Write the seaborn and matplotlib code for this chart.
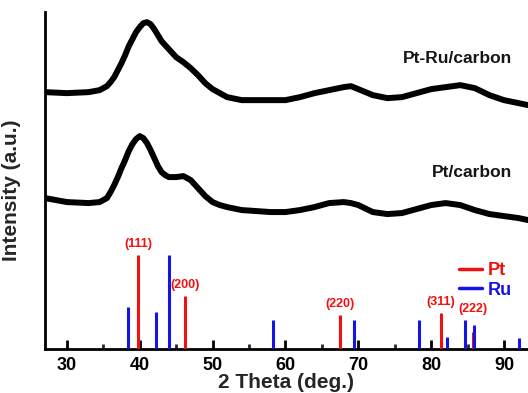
import numpy as np
import pandas as pd
import matplotlib
matplotlib.use("Agg")
import matplotlib.pyplot as plt
import seaborn as sns
from matplotlib.lines import Line2D
from matplotlib.ticker import MultipleLocator

# ---- data ----
two_theta = [27, 30, 33, 34.5, 35.5, 36, 36.5, 37, 37.5, 38, 38.5, 39, 39.5, 40, 40.5, 41,
             41.5, 42, 42.5, 43, 43.5, 44, 45, 46, 47, 48, 49, 50, 51, 52, 54, 56, 58, 60,
             62, 64, 66, 68, 69, 70, 72, 74, 76, 78, 80, 82, 84, 86, 88, 90, 92, 93.3]
ptru_intensity = [257, 256, 257, 259, 263, 267, 272, 279, 286, 294, 303, 310, 317, 322, 326,
                  327, 325, 320, 314, 308, 304, 300, 292, 287, 281, 274, 266, 260, 256, 252,
                  249, 249, 249, 249, 252, 256, 259, 262, 263, 260, 254, 251, 252, 256, 260,
                  262, 264, 261, 254, 249, 246, 244]
pt_intensity = [151, 147, 146, 147, 151, 157, 164, 172, 181, 189, 198, 205, 210, 213, 211,
                206, 199, 191, 183, 177, 174, 172, 172, 173, 169, 161, 153, 147, 144, 142,
                139, 138, 137, 137, 139, 142, 146, 147, 146, 144, 137, 135, 136, 140, 144,
                146, 144, 139, 135, 133, 131, 129]
sample_names = ["Pt-Ru/carbon", "Pt/carbon"]

pt_ref_pos = [39.8, 46.2, 67.5, 81.3, 85.7]
pt_ref_height = [94, 53, 34, 36, 17]
pt_ref_hkl = ["(111)", "(200)", "(220)", "(311)", "(222)"]

ru_ref_pos = [38.4, 42.2, 44.0, 58.3, 69.4, 78.4, 82.2, 84.7, 85.9, 92.1]
ru_ref_height = [42, 37, 94, 29, 29, 29, 12, 29, 24, 11]

xticks = [30, 40, 50, 60, 70, 80, 90]

# ---- styling ----
sns.set_style("white")
plt.rcParams["font.family"] = ["Liberation Sans", "DejaVu Sans"]
RED = "#f01010"
BLUE = "#1414e6"

fig = plt.figure(figsize=(5.28, 3.93), dpi=100)
ax = fig.add_axes([0.0852, 0.112, 0.9148, 0.857])

df = pd.DataFrame({
    "two_theta": two_theta * 2,
    "intensity": ptru_intensity + pt_intensity,
    "sample": [sample_names[0]] * len(two_theta) + [sample_names[1]] * len(two_theta),
})
sns.lineplot(data=df, x="two_theta", y="intensity", hue="sample",
             palette={sample_names[0]: "black", sample_names[1]: "black"},
             linewidth=4.3, legend=False, ax=ax, sort=True)

ax.vlines(pt_ref_pos, 0, pt_ref_height, colors=RED, linewidth=2.2, zorder=3)
ax.vlines(ru_ref_pos, 0, ru_ref_height, colors=BLUE, linewidth=2.2, zorder=3)

all_pos = np.array(pt_ref_pos + ru_ref_pos)
all_h = np.array(pt_ref_height + ru_ref_height)
for p, lab in zip(pt_ref_pos, pt_ref_hkl):
    near = all_h[np.abs(all_pos - p) <= 1.5].max()
    ax.text(p, near + 11, lab, color=RED, fontsize=9, fontweight="bold",
            ha="center", va="center")

# sample labels
ax.text(91.15, 291, sample_names[0], ha="right", va="center", fontsize=12.5,
        fontweight="bold", color="#161616")
ax.text(91.15, 177, sample_names[1], ha="right", va="center", fontsize=12.5,
        fontweight="bold", color="#161616")

ax.set_xlim(27, 93.3)
ax.set_ylim(0, 337)
ax.set_xticks(xticks)
ax.xaxis.set_minor_locator(MultipleLocator(5))
ax.set_yticks([])
ax.tick_params(axis="x", which="major", direction="in", length=6.5, width=2,
               labelsize=13, pad=6, colors="black", bottom=True)
ax.tick_params(axis="x", which="minor", direction="in", length=3.5, width=2,
               bottom=True)
for lab in ax.get_xticklabels():
    lab.set_fontweight("bold")

for s in ["top", "right"]:
    ax.spines[s].set_visible(False)
for s in ["left", "bottom"]:
    ax.spines[s].set_linewidth(2)
    ax.spines[s].set_color("black")

ax.set_xlabel("2 Theta (deg.)", fontsize=15, fontweight="bold", labelpad=-1)
ax.set_ylabel("Intensity (a.u.)", fontsize=15, fontweight="bold")
ax.yaxis.set_label_coords(-0.05, 0.47)

handles = [Line2D([0], [0], color=RED, lw=2.5), Line2D([0], [0], color=BLUE, lw=2.5)]
leg = ax.legend(handles, ["Pt", "Ru"], loc="upper left", bbox_to_anchor=(0.823, 0.307),
                frameon=False, handlelength=1.3, handletextpad=0.3, labelspacing=0.15,
                prop={"size": 13, "weight": "bold"})
for t, c in zip(leg.get_texts(), [RED, BLUE]):
    t.set_color(c)

fig.savefig("out.png", dpi=100)
